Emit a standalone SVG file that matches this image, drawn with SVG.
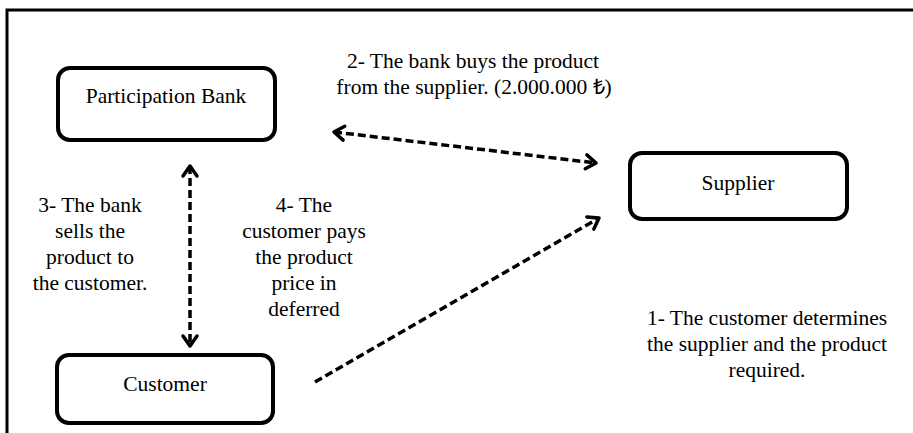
<svg xmlns="http://www.w3.org/2000/svg" width="913" height="433" viewBox="0 0 913 433">
<style>
  .box { fill: #fff; stroke: #000; stroke-width: 4; }
  .t { font-family: "Liberation Serif", "Times New Roman", serif; font-size: 21.5px; fill: #000; text-anchor: middle; }
  .conn { fill: none; stroke: #000; stroke-width: 3.5; stroke-dasharray: 8 4; }
  .frame { fill: none; stroke: #000; stroke-width: 3; }
</style>
<defs>
  <marker id="ah" viewBox="-13 -10 16 20" refX="0" refY="0" markerWidth="16" markerHeight="20" markerUnits="userSpaceOnUse" orient="auto-start-reverse">
    <path d="M-10,-7 L0,0 L-10,7" fill="none" stroke="#000" stroke-width="3.5" stroke-linecap="round" stroke-linejoin="round"/>
  </marker>
</defs>
<rect width="913" height="433" fill="#fff"/>
<path class="frame" d="M7,433 V10 H913"/>

<g id="bank">
  <rect class="box" x="58" y="68" width="217" height="72" rx="12"/>
  <text class="t" x="166" y="103">Participation Bank</text>
</g>
<g id="supplier">
  <rect class="box" x="630" y="153" width="217" height="66" rx="12"/>
  <text class="t" x="738" y="190">Supplier</text>
</g>
<g id="customer">
  <rect class="box" x="57" y="355" width="216" height="68" rx="12"/>
  <text class="t" x="165" y="391">Customer</text>
</g>

<g id="connectors">
  <line class="conn" x1="190" y1="166" x2="190" y2="346" marker-start="url(#ah)" marker-end="url(#ah)"/>
  <line class="conn" x1="334" y1="132" x2="596" y2="163" marker-start="url(#ah)" marker-end="url(#ah)"/>
  <line class="conn" x1="315" y1="382" x2="599" y2="218" marker-end="url(#ah)"/>
</g>

<g id="labels">
  <text class="t" x="473" y="68">2- The bank buys the product</text>
  <text class="t" x="474" y="94">from the supplier. (2.000.000 ₺)</text>
  <text class="t" x="90" y="212">3- The bank</text>
  <text class="t" x="90" y="238">sells the</text>
  <text class="t" x="90" y="264">product to</text>
  <text class="t" x="90" y="290">the customer.</text>
  <text class="t" x="304" y="212">4- The</text>
  <text class="t" x="304" y="238">customer pays</text>
  <text class="t" x="304" y="264">the product</text>
  <text class="t" x="304" y="290">price in</text>
  <text class="t" x="304" y="316">deferred</text>
  <text class="t" x="767" y="325">1- The customer determines</text>
  <text class="t" x="767" y="351">the supplier and the product</text>
  <text class="t" x="767" y="377">required.</text>
</g>
</svg>
